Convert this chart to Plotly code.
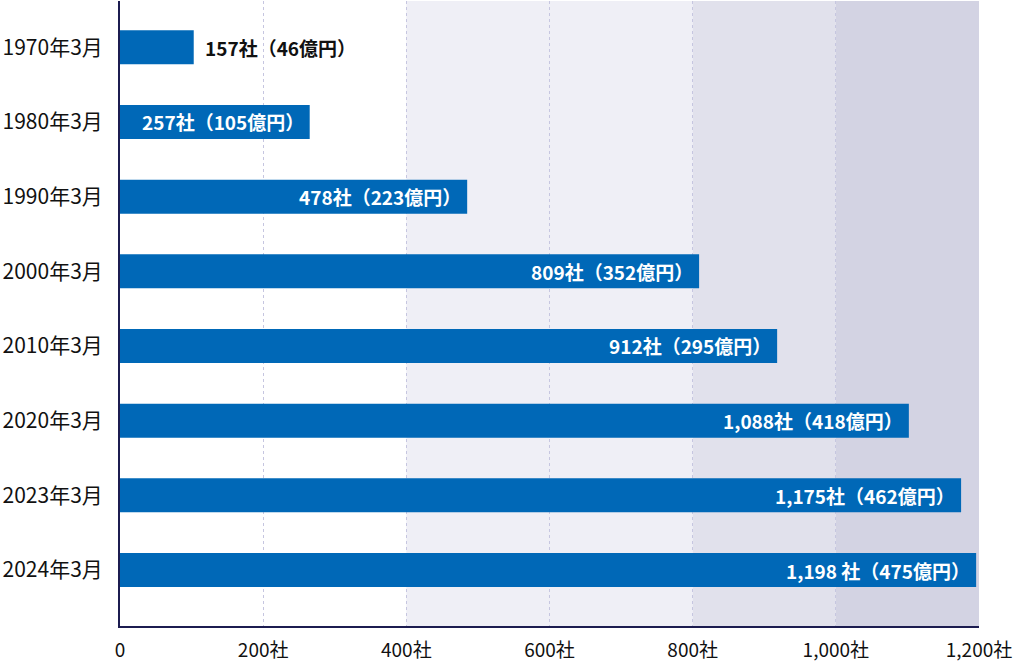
import plotly.graph_objects as go

# Data
periods = ["1970年3月", "1980年3月", "1990年3月", "2000年3月", "2010年3月", "2020年3月", "2023年3月", "2024年3月"]
bar_lengths = [103, 265, 485, 809, 918, 1102, 1175, 1196]  # bar lengths as drawn in the reference
companies = ["157", "257", "478", "809", "912", "1,088", "1,175", "1,198 "]
amounts_oku = [46, 105, 223, 352, 295, 418, 462, 475]
x_tickvals = [0, 200, 400, 600, 800, 1000, 1200]
x_ticktext = ["0", "200社", "400社", "600社", "800社", "1,000社", "1,200社"]

FONT = "Noto Sans CJK JP"
BAR_COLOR = "#0068b7"
AXIS_COLOR = "#1c1c50"

labels = [f"{c}社（{a}億円）" for c, a in zip(companies, amounts_oku)]

fig = go.Figure()
fig.add_trace(go.Bar(
    x=bar_lengths, y=periods, orientation="h",
    width=0.455,
    marker=dict(color=BAR_COLOR, line=dict(width=0)),
    hoverinfo="skip",
))

# Labels: first one outside (black), others inside (white)
for i, (p, v, t) in enumerate(zip(periods, bar_lengths, labels)):
    if i == 0:
        fig.add_annotation(x=v, y=p, text=f"<b>{t}</b>", showarrow=False,
                           xanchor="left", xshift=9,
                           font=dict(family=FONT, size=19, color="#111111"))
    else:
        fig.add_annotation(x=v, y=p, text=f"<b>{t}</b>", showarrow=False,
                           xanchor="right", xshift=-4,
                           font=dict(family=FONT, size=19, color="#ffffff"))

# Background bands
bands = [(400, 800, "#efeff6"), (800, 1000, "#e1e1ec"), (1000, 1200, "#d3d3e3")]
for x0, x1, c in bands:
    fig.add_shape(type="rect", xref="x", yref="paper", x0=x0, x1=x1, y0=0, y1=1,
                  fillcolor=c, line=dict(width=0), layer="below")

fig.update_layout(
    width=1014, height=663,
    margin=dict(l=120, r=35, t=1, b=37),
    paper_bgcolor="white", plot_bgcolor="white",
    showlegend=False,
    font=dict(family=FONT, color="#111111"),
    bargap=0.5,
)
fig.update_xaxes(
    range=[0, 1200], tickvals=x_tickvals, ticktext=x_ticktext,
    showgrid=True, gridcolor="#c6c6e0", griddash="dot", gridwidth=1,
    zeroline=False, showline=True, linecolor=AXIS_COLOR, linewidth=2,
    ticks="", ticklabelstandoff=6,
    tickfont=dict(family=FONT, size=19, color="#111111"),
    fixedrange=True,
)
fig.update_yaxes(
    type="category", categoryorder="array", categoryarray=periods,
    range=[7.75, -0.62],
    showgrid=False, zeroline=False, showline=True, linecolor=AXIS_COLOR, linewidth=2,
    ticks="", ticklabelstandoff=11,
    tickfont=dict(family=FONT, size=21, color="#111111"),
    fixedrange=True,
)

fig.write_html("out.html")
